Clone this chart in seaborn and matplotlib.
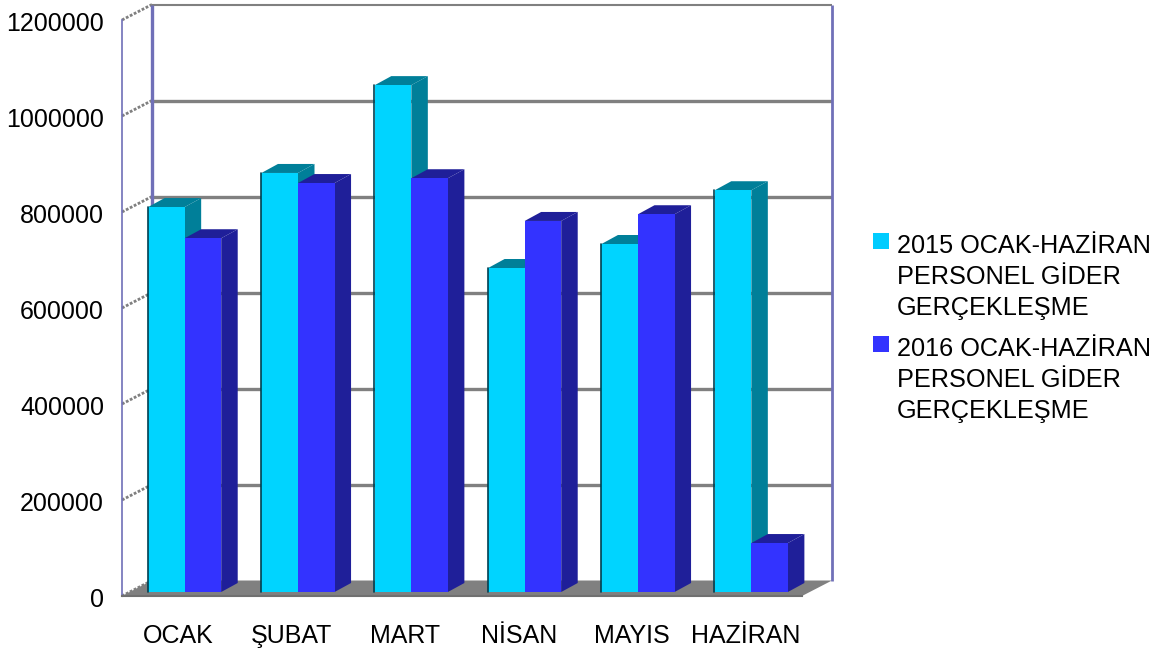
import pandas as pd
import matplotlib
matplotlib.use('Agg')
import matplotlib.pyplot as plt
import seaborn as sns
from matplotlib.patches import Polygon, Rectangle
from matplotlib.transforms import Affine2D

# Values
months = ['OCAK', 'ŞUBAT', 'MART', 'NİSAN', 'MAYIS', 'HAZİRAN']
gider_2015 = [802000, 873000, 1056000, 675000, 725000, 837000]
gider_2016 = [737000, 852000, 862000, 773000, 787000, 102000]
label_2015 = '2015 OCAK-HAZİRAN\nPERSONEL GİDER\nGERÇEKLEŞME'
label_2016 = '2016 OCAK-HAZİRAN\nPERSONEL GİDER\nGERÇEKLEŞME'
y_ticks = [0, 200000, 400000, 600000, 800000, 1000000, 1200000]

W, H = 1162, 652
front_colors = ['#00D4FF', '#3333FF']
legend_colors = ['#00CCFF', '#3333FF']
side_colors = ['#007F99', '#1F1F99']

sns.set_theme(style='white')
plt.rcParams['font.family'] = ['Liberation Sans', 'DejaVu Sans']

df = pd.DataFrame({
    'month': months * 2,
    'value': gider_2015 + gider_2016,
    'series': [label_2015] * 6 + [label_2016] * 6,
})

fig = plt.figure(figsize=(W / 100, H / 100), dpi=100)
ax = fig.add_axes([122 / W, (H - 596) / H, 680 / W, 576 / H])

sns.barplot(data=df, x='month', y='value', hue='series', palette=front_colors,
            width=0.645, gap=0, saturation=1, legend=False, edgecolor='none', linewidth=0, ax=ax)
bars = list(ax.patches)
ax.set_xlim(-0.5, 5.5)
ax.set_ylim(0, 1200000)
ax.set_xlabel('')
ax.set_ylabel('')
ax.set_yticks(y_ticks)
ax.set_yticklabels([str(t) for t in y_ticks])
ax.tick_params(axis='y', labelsize=18, pad=13, length=0, colors='black')
ax.tick_params(axis='x', labelsize=18, pad=20, length=0, colors='black')
for lab in ax.get_yticklabels():
    lab.set_transform(lab.get_transform() + Affine2D().translate(0, -1.5))
ax.patch.set_alpha(0)
for s in ['top', 'right']:
    ax.spines[s].set_visible(False)
ax.spines['left'].set_color('#7070B8')
ax.spines['left'].set_linewidth(1.2)
ax.spines['bottom'].set_color('#707070')
ax.spines['bottom'].set_linewidth(1.5)

# back wall sits up and to the right of the axes plane (pixels)
wall_dx, wall_dy = 30, 15.5
wall = ax.transData + Affine2D().translate(wall_dx, wall_dy)
ax.hlines(y_ticks[1:-1], -0.5, 5.5, colors='#808080', lw=2.4, transform=wall, zorder=1, clip_on=False)
ax.hlines(y_ticks[-1], -0.5, 5.5, colors='#808080', lw=1.5, transform=wall, zorder=1, clip_on=False)
ax.vlines(-0.5, 0, 1200000, colors='#7070B8', lw=2.4, transform=wall, zorder=1.2, clip_on=False)
ax.vlines(5.5, 0, 1200000, colors='#7070B8', lw=2.0, transform=wall, zorder=1.2, clip_on=False)

# floor and the slanted ticks on the side wall
x0, y0 = ax.transData.transform((-0.5, 0))
x1, y1 = ax.transData.transform((5.5, 0))
ax.add_patch(Polygon([(x0, y0), (x1, y0), (x1 + wall_dx, y0 + wall_dy), (x0 + wall_dx, y0 + wall_dy)],
                     closed=True, facecolor='#808080', edgecolor='none',
                     transform=None, zorder=0.8, clip_on=False))
for t in y_ticks:
    px, py = ax.transData.transform((-0.5, t))
    ax.plot([px, px + wall_dx], [py, py + wall_dy], color='#808080', lw=2, ls=(0, (1, 0.6)),
            transform=None, zorder=1.1, clip_on=False)

# bars stand a little in from the front of the floor, with a side and a top face
bar_dx, bar_dy = 6, 4
deep_x, deep_y = 16.5, 9
shift = Affine2D().translate(bar_dx, bar_dy)
n = len(months)
for i, bar in enumerate(bars):
    series = 0 if i < n else 1
    z = 3 + series * 2
    bar.set_transform(ax.transData + shift)
    bar.set_zorder(z + 1)
    bar.set_clip_on(False)
    (l, b) = ax.transData.transform((bar.get_x(), 0)) + (bar_dx, bar_dy)
    (r, t) = ax.transData.transform((bar.get_x() + bar.get_width(), bar.get_height())) + (bar_dx, bar_dy)
    side = [(r, b), (r + deep_x, b + deep_y), (r + deep_x, t + deep_y), (r, t)]
    top = [(l, t), (l + deep_x, t + deep_y), (r + deep_x, t + deep_y), (r, t)]
    for pts in (side, top):
        ax.add_patch(Polygon(pts, closed=True, facecolor=side_colors[series], edgecolor='none',
                             transform=None, zorder=z, clip_on=False))
    if series == 0:
        ax.plot([l - 0.5, l - 0.5], [b, t], color='#004050', lw=1.2, transform=None, zorder=z + 1, clip_on=False)

# legend
for label, color, top_px in zip([label_2015, label_2016], legend_colors, [233, 336]):
    fig.add_artist(Rectangle((873 / W, 1 - (top_px + 16) / H), 16 / W, 16 / H, facecolor=color,
                             edgecolor='none', transform=fig.transFigure))
    fig.text(897 / W, 1 - (top_px + 1) / H, label, fontsize=18.2, color='black',
             va='top', ha='left', linespacing=1.36)

fig.savefig('out.png', dpi=100, facecolor='white')
